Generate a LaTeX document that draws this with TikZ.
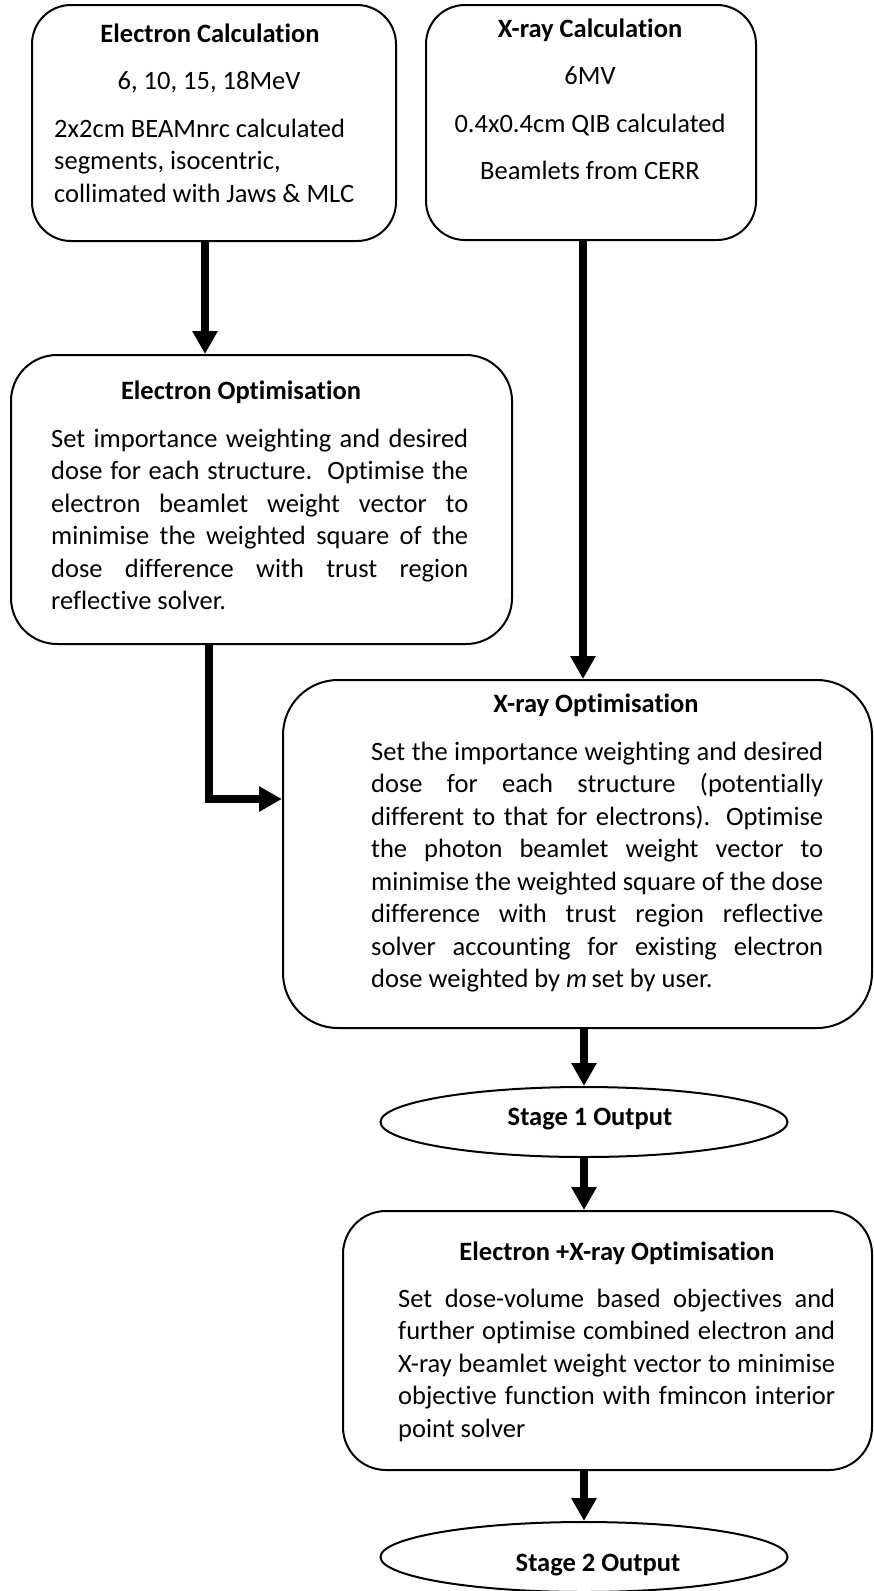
\documentclass[tikz,border=0pt]{standalone}
\usepackage{fontspec}
\setmainfont{Carlito}[Ligatures=NoCommon]
\usetikzlibrary{arrows.meta,shapes.geometric}
\newcommand\jline[2]{\makebox[#1][s]{#2}}
\begin{document}
\begin{tikzpicture}[x=1pt,y=-1pt,
  box/.style={draw, line width=2pt, inner sep=0pt, fill=white},
  oval/.style={draw, ellipse, line width=2pt, inner sep=0pt, minimum width=407pt, minimum height=70pt},
  arr/.style={line width=8pt, line join=miter, -{Triangle[length=23pt,width=24pt]}},
  body/.style={font=\fontsize{26.5}{32.5}\selectfont, inner sep=0pt, anchor=base west},
  bodyc/.style={font=\fontsize{26.5}{32.5}\selectfont, inner sep=0pt, anchor=base},
  ttl/.style={font=\bfseries\fontsize{26.5}{32.5}\selectfont, inner sep=0pt, anchor=base}]
\useasboundingbox (0,0) rectangle (874,1591);

% boxes
\node[box, minimum width=364pt, minimum height=236pt, rounded corners=39pt] (ecalc) at (214,123) {};
\node[box, minimum width=330pt, minimum height=235pt, rounded corners=39pt] (xcalc) at (591,122.5) {};
\node[box, minimum width=501pt, minimum height=289pt, rounded corners=46pt] (eopt) at (261.5,499.5) {};
\node[box, minimum width=589pt, minimum height=348pt, rounded corners=55pt] (xopt) at (577.5,854) {};
\node[oval] (s1) at (584,1122) {};
\node[box, minimum width=529pt, minimum height=259pt, rounded corners=43pt] (exo) at (607.5,1340.5) {};
\node[oval] (s2) at (584,1557) {};

% Electron Calculation
\node[ttl] (ecalcT) at (210,42) {Electron Calculation};
\node[bodyc] (ecalc1) at (209,89) {6, 10, 15, 18MeV};
\node[body] (ecalc2) at (54,137) {2x2cm BEAMnrc calculated};
\node[body] (ecalc3) at (54,169.5) {segments, isocentric,};
\node[body] (ecalc4) at (54,202) {collimated with Jaws \& MLC};

% X-ray Calculation
\node[ttl] (xcalcT) at (590,37) {X-ray Calculation};
\node[bodyc] (xcalc1) at (590,84) {6MV};
\node[bodyc] (xcalc2) at (590,132) {0.4x0.4cm QIB calculated};
\node[bodyc] (xcalc3) at (590,179) {Beamlets from CERR};

% Electron Optimisation
\node[ttl] (eoptT) at (241,399) {Electron Optimisation};
\node[body] (eopt1) at (51,447) {\jline{417pt}{Set importance weighting and desired}};
\node[body] (eopt2) at (51,479.5) {\jline{417pt}{dose for each structure.\ \ Optimise the}};
\node[body] (eopt3) at (51,512) {\jline{417pt}{electron beamlet weight vector to}};
\node[body] (eopt4) at (51,544.5) {\jline{417pt}{minimise the weighted square of the}};
\node[body] (eopt5) at (51,577) {\jline{417pt}{dose difference with trust region}};
\node[body] (eopt6) at (51,609.5) {reflective solver.};

% X-ray Optimisation
\node[ttl] (xoptT) at (596,712) {X-ray Optimisation};
\node[body] (xopt1) at (371,760) {\jline{452pt}{Set the importance weighting and desired}};
\node[body] (xopt2) at (371,792.5) {\jline{452pt}{dose for each structure (potentially}};
\node[body] (xopt3) at (371,825) {\jline{452pt}{different to that for electrons). Optimise}};
\node[body] (xopt4) at (371,857.5) {\jline{452pt}{the photon beamlet weight vector to}};
\node[body] (xopt5) at (371,890) {\jline{452pt}{minimise the weighted square of the dose}};
\node[body] (xopt6) at (371,922.5) {\jline{452pt}{difference with trust region reflective}};
\node[body] (xopt7) at (371,955) {\jline{452pt}{solver accounting for existing electron}};
\node[body] (xopt8) at (371,987.5) {dose weighted by \textit{m}\,set by user.};

% Stage outputs
\node[ttl] (s1T) at (590,1125) {Stage 1 Output};
\node[ttl] (s2T) at (598,1571.5) {Stage 2 Output};

% Electron + X-ray Optimisation
\node[ttl] (exoT) at (617,1260) {Electron +X-ray Optimisation};
\node[body] (exo1) at (398,1307) {\jline{437pt}{Set dose-volume based objectives and}};
\node[body] (exo2) at (398,1339.5) {\jline{437pt}{further optimise combined electron and}};
\node[body] (exo3) at (398,1372) {\jline{437pt}{X-ray beamlet weight vector to minimise}};
\node[body] (exo4) at (398,1404.5) {\jline{437pt}{objective function with fmincon interior}};
\node[body] (exo5) at (398,1437) {point solver};

% connectors
\coordinate (ax1) at (205,0);
\coordinate (ax2) at (583,0);
\coordinate (elbow) at (209,799);
\draw[arr] (ecalc.south -| ax1) -- (eopt.north -| ax1);
\draw[arr] (xcalc.south -| ax2) -- (xopt.north -| ax2);
\draw[arr] (eopt.south -| elbow) |- (xopt.west |- elbow);
\draw[arr] (xopt.south -| s1.north) -- (s1.north);
\draw[arr] (s1.south) -- (exo.north -| s1.south);
\draw[arr] (exo.south -| s2.north) -- (s2.north);
\end{tikzpicture}
\end{document}
